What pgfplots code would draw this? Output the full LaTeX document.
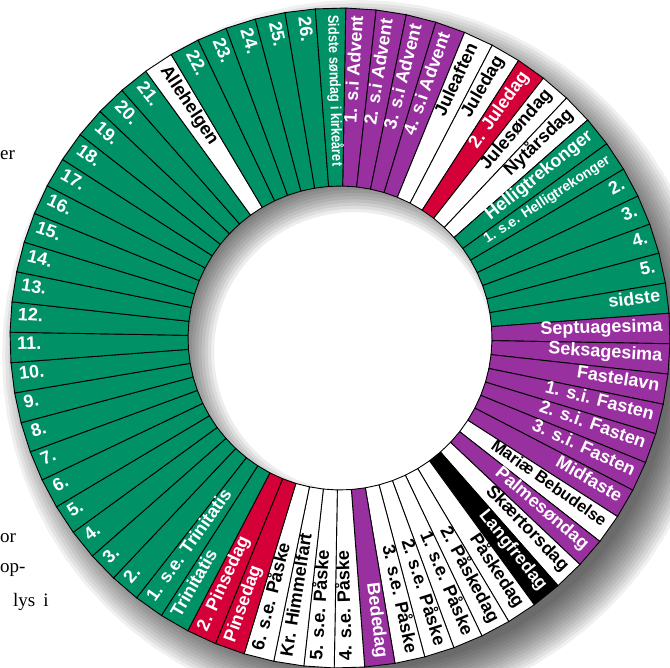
\documentclass[border=0pt]{standalone}
\usepackage{fontspec}
\setmainfont{Liberation Sans}
\newfontfamily\seriffont{Liberation Serif}
\newfontfamily\narrowfont[FakeStretch=0.85]{Liberation Sans}
\usepackage{pgfplots}
\pgfplotsset{compat=1.18}
\definecolor{gr}{RGB}{0,146,102}
\definecolor{pu}{RGB}{153,48,160}
\definecolor{rd}{RGB}{213,0,55}
% label / fill colour / text colour / label style
\def\seglist{%
1. s.i Advent/pu/white/n,
2. s.i Advent/pu/white/n,
3. s.i Advent/pu/white/n,
4. s.i Advent/pu/white/n,
Juleaften/white/black/n,
Juledag/white/black/n,
2. Juledag/rd/white/n,
Julesøndag/white/black/n,
Nytårsdag/white/black/n,
Helligtrekonger/gr/white/n,
1. s.e. Helligtrekonger/gr/white/s,
2./gr/white/n,
3./gr/white/n,
4./gr/white/n,
5./gr/white/n,
sidste/gr/white/n,
Septuagesima/pu/white/n,
Seksagesima/pu/white/n,
Fastelavn/pu/white/n,
1. s.i. Fasten/pu/white/n,
2. s.i. Fasten/pu/white/n,
3. s.i. Fasten/pu/white/n,
Midfaste/pu/white/n,
Mariæ Bebudelse/white/black/m,
Palmesøndag/pu/white/n,
Skærtorsdag/white/black/n,
Langfredag/black/white/n,
Påskedag/white/black/n,
2. Påskedag/white/black/n,
1. s.e. Påske/white/black/n,
2. s.e. Påske/white/black/n,
3. s.e. Påske/white/black/n,
Bededag/pu/white/n,
4. s.e. Påske/white/black/n,
5. s.e. Påske/white/black/n,
Kr. Himmelfart/white/black/n,
6. s.e. Påske/white/black/n,
Pinsedag/rd/white/n,
2. Pinsedag/rd/white/n,
Trinitatis/gr/white/n,
1. s.e. Trinitatis/gr/white/n,
2./gr/white/n,
3./gr/white/n,
4./gr/white/n,
5./gr/white/n,
6./gr/white/n,
7./gr/white/n,
8./gr/white/n,
9./gr/white/n,
10./gr/white/n,
11./gr/white/n,
12./gr/white/n,
13./gr/white/n,
14./gr/white/n,
15./gr/white/n,
16./gr/white/n,
17./gr/white/n,
18./gr/white/n,
19./gr/white/n,
20./gr/white/n,
21./gr/white/n,
Allehelgen/white/black/n,
22./gr/white/n,
23./gr/white/n,
24./gr/white/n,
25./gr/white/n,
26./gr/white/n,
Sidste søndag i kirkeåret/gr/white/k}
\begin{document}
\begin{tikzpicture}[
  labn/.style={font=\fontsize{18}{18}\selectfont\bfseries},
  labm/.style={font=\fontsize{16.5}{16.5}\selectfont\bfseries},
  labs/.style={font=\fontsize{14}{14}\selectfont\bfseries},
  labk/.style={font=\fontsize{15}{15}\selectfont\narrowfont\bfseries},
  seg/.style={draw=black,line width=0.9pt}]
\begin{axis}[x=1pt,y=1pt,hide axis,
  xmin=-340,xmax=330,ymin=-330,ymax=338]
% outer drop shadow (stacked grey discs, lightest and largest first)
\foreach \s in {0,...,13}{
  \pgfmathsetmacro\rr{356-\s*3.2}
  \pgfmathsetmacro\pct{100*(1-0.94^(\s+1))}
  \gdef\cc{}
  \foreach \t in {0,5,...,355}{
    \pgfmathsetmacro\px{18+\rr*cos(\t)}
    \pgfmathsetmacro\py{-18+\rr*sin(\t)}
    \xdef\cc{\cc (\px,\py)}
  }
  \edef\temp{\noexpand\addplot[draw=none,fill=black!\pct!white] coordinates {\cc} --cycle;}
  \temp
}
% clear the hole again
\gdef\cc{}
\foreach \t in {0,5,...,355}{
  \pgfmathsetmacro\px{160*cos(\t)}
  \pgfmathsetmacro\py{160*sin(\t)}
  \xdef\cc{\cc (\px,\py)}
}
\edef\temp{\noexpand\addplot[draw=none,fill=white] coordinates {\cc} --cycle;}
\temp
% shadow falling into the hole (annuli, hidden by the ring except in the hole)
\foreach \s in {0,...,13}{
  \pgfmathsetmacro\rin{140+\s*3.2}
  \pgfmathsetmacro\pct{100*(1-0.93^(\s+1))}
  \gdef\cc{}
  \foreach \t in {0,5,...,360}{
    \pgfmathsetmacro\px{14+300*cos(\t)}
    \pgfmathsetmacro\py{-14+300*sin(\t)}
    \xdef\cc{\cc (\px,\py)}
  }
  \foreach \t in {360,355,...,0}{
    \pgfmathsetmacro\px{14+\rin*cos(\t)}
    \pgfmathsetmacro\py{-14+\rin*sin(\t)}
    \xdef\cc{\cc (\px,\py)}
  }
  \edef\temp{\noexpand\addplot[draw=none,fill=black!\pct!white] coordinates {\cc} --cycle;}
  \temp
}
% ring segments (68 equal parts of the church year)
\foreach \lbl/\col/\tc/\fs [count=\i from 0] in \seglist {
  \pgfmathsetmacro\angA{89-(\i/68)*360}
  \pgfmathsetmacro\angB{89-((\i+1)/68)*360}
  \pgfmathsetmacro\xai{152*cos(\angA)}
  \pgfmathsetmacro\yai{152*sin(\angA)}
  \pgfmathsetmacro\xao{330*cos(\angA)}
  \pgfmathsetmacro\yao{330*sin(\angA)}
  \pgfmathsetmacro\xbo{330*cos(\angB)}
  \pgfmathsetmacro\ybo{330*sin(\angB)}
  \pgfmathsetmacro\xbi{152*cos(\angB)}
  \pgfmathsetmacro\ybi{152*sin(\angB)}
  \edef\temp{\noexpand\addplot[seg,fill=\col] coordinates {(\xai,\yai) (\xao,\yao) (\xbo,\ybo) (\xbi,\ybi)} --cycle;}
  \temp
}
% labels
\pgfplotsextra{
  \foreach \lbl/\col/\tc/\fs [count=\i from 0] in \seglist {
    \pgfmathsetmacro\angM{89-((\i+0.5)/68)*360}
    \pgfmathsetmacro\xl{323*cos(\angM)}
    \pgfmathsetmacro\yl{323*sin(\angM)}
    \ifnum\i<33
      \pgfmathsetmacro\rot{\angM}\def\anc{mid east}%
    \else
      \pgfmathsetmacro\rot{\angM+180}\def\anc{mid west}%
    \fi
    \node[lab\fs,text=\tc,rotate=\rot,anchor=\anc,inner sep=0pt] at (axis cs:\xl,\yl) {\lbl};
  }
}
% fragments of the surrounding page text
\node[anchor=base west,inner sep=0pt,font=\fontsize{19}{19}\selectfont\seriffont] at (axis cs:-340,178) {er};
\node[anchor=base west,inner sep=0pt,font=\fontsize{19}{19}\selectfont\seriffont] at (axis cs:-340,-205) {or};
\node[anchor=base west,inner sep=0pt,font=\fontsize{19}{19}\selectfont\seriffont] at (axis cs:-340,-235) {op-};
\node[anchor=base west,inner sep=0pt,font=\fontsize{19}{19}\selectfont\seriffont] at (axis cs:-327,-269) {lys\hspace{8pt}i};
\end{axis}
\pgfresetboundingbox
\path (current axis.south west) rectangle (current axis.north east);
\end{tikzpicture}
\end{document}
